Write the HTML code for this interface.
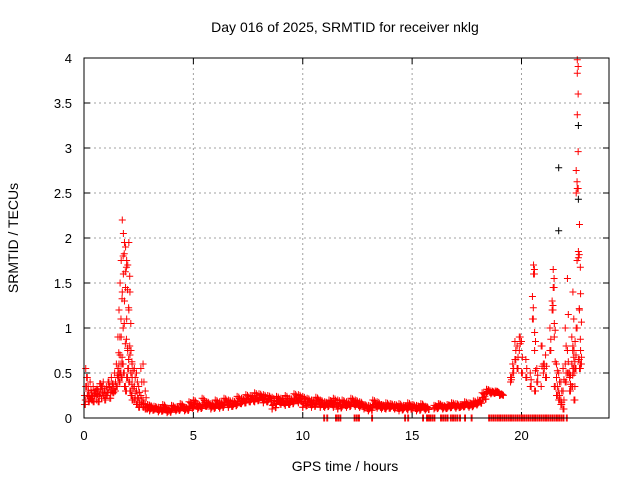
<!DOCTYPE html>
<html><head><meta charset="utf-8">
<style>
body{margin:0;background:#fff;}
svg{display:block;font-family:"Liberation Sans",sans-serif;}
</style></head>
<body>
<svg id="chart" width="640" height="480">
<text x="345" y="32" font-size="14" text-anchor="middle">Day 016 of 2025, SRMTID for receiver nklg</text>
<text x="345" y="471" font-size="14" text-anchor="middle">GPS time / hours</text>
<text transform="translate(18,238) rotate(-90)" font-size="14" text-anchor="middle">SRMTID / TECUs</text>
<g id="grid"></g><g id="ticks"></g><g id="marks"></g>
<rect x="84" y="58" width="525" height="360" fill="none" stroke="#000" stroke-width="1"/>
</svg>
<script>
const xTicks=[0,5,10,15,20];
const yTicks=[0,0.5,1,1.5,2,2.5,3,3.5,4];
const yTickLabels=["0","0.5","1","1.5","2","2.5","3","3.5","4"];
// rows: [time, value, value, ...]
const redSeries=[
[0.02,.25,.15],[0.08,.55,.35],[0.15,.45,.25],[0.2,.3,.18],[0.28,.4,.22],[0.35,.28,.2],[0.42,.35,.18],[0.5,.25,.3],[0.58,.2,.32],[0.65,.3,.18],[0.72,.27,.38],[0.8,.22,.35],[0.88,.4,.25],[0.95,.3,.2],[1.02,.35,.25],[1.1,.28,.4],[1.18,.35,.22],[1.25,.45,.3],[1.32,.38,.28],[1.4,.5,.3],[1.48,.6,.35],
[1.55,.9,.55,.45],[1.6,1.2,.6,.4],[1.65,1.5,.7,.5],[1.7,1.75,.9,.45],[1.75,2.2,1.4,.6],[1.8,2.05,1.6,.5],[1.85,1.95,1.3,.35],[1.9,1.9,1.45,.3],[1.95,1.75,1.1,.45],[2.0,1.7,.75,.55],[2.05,1.95,1.2,.4],[2.1,1.4,.7,.3],[2.15,.75,.5,.25],[2.2,.6,.45,.2],[2.3,.55,.35,.2],[2.4,.5,.3,.15],[2.5,.35,.22,.12],[2.6,.55,.25,.15],[2.7,.6,.2,.12],[2.8,.3,.15,.1],[2.9,.15,.1],
[3.0,.14,.08],[3.2,.13,.09],[3.4,.12,.07],[3.6,.15,.08],[3.8,.1,.06],[4.0,.14,.09],[4.2,.12,.08],[4.4,.16,.1],[4.6,.12,.08],[4.8,.18,.1],[5.0,.2,.12],[5.2,.15,.1],[5.4,.22,.12],[5.6,.18,.13],[5.8,.16,.1],[6.0,.2,.12],[6.2,.18,.11],[6.4,.22,.14],[6.6,.2,.12],[6.8,.19,.13],[7.0,.24,.15],[7.2,.22,.16],[7.4,.26,.17],[7.6,.25,.18],[7.8,.28,.18],[8.0,.27,.2],[8.2,.26,.17],[8.4,.25,.18],[8.6,.23,.1],[8.8,.24,.16],[9.0,.22,.15],[9.2,.25,.14],[9.4,.22,.15],[9.6,.27,.18],[9.8,.26,.17],[10.0,.24,.12],[10.2,.22,.14],[10.4,.2,.12],[10.6,.23,.15],[10.8,.2,.12],[11.0,.18,.12],[11.2,.2,.14],[11.4,.22,.12],[11.6,.2,.1],[11.8,.2,.13],[12.0,.18,.12],[12.2,.22,.14],[12.4,.2,.13],[12.6,.18,.12],[12.8,.15,.1],[13.0,.14,.08],[13.2,.2,.12],[13.4,.18,.11],[13.6,.15,.1],[13.8,.17,.1],[14.0,.16,.11],[14.2,.15,.1],[14.4,.16,.08],[14.6,.14,.1],[14.8,.17,.09],[15.0,.15,.1],[15.2,.14,.08],[15.4,.16,.1],[15.6,.13,.09],[16.0,.14,.1],[16.2,.16,.12],[16.4,.14,.1],[16.6,.15,.11],[16.8,.17,.12],[17.0,.16,.11],[17.2,.15,.12],[17.4,.18,.13],[17.6,.17,.12],[17.8,.19,.14],[18.0,.2,.16],[18.2,.28,.2],[18.4,.32,.28],[18.6,.3,.27],[18.8,.3,.28],[19.0,.27,.25],
[19.5,.4,.45],[19.6,.6,.5],[19.7,.85,.65],[19.8,.8,.55],[19.9,.75,.9],[20.0,.85,.5],[20.2,.65,.45],[20.4,.5,.35],[20.5,1.35,1.1],[20.55,1.7,1.6],[20.6,.95,.75,.3],[20.7,.55,.4],[20.9,.35,.8],[21.0,.5,.6],[21.1,.7,.45],[21.3,1.0,.75],[21.4,1.3,1.2],[21.45,1.65,1.45],[21.5,1.05,.9,.35],[21.6,.6,.45,.25],[21.7,.5,.3,.2],[21.8,.4,.2,.15],[21.9,.55,.3,.1],[22.0,1.0,.6,.4],[22.1,1.55,.75,.5],[22.2,.5,.45,.3],[22.3,.9,.6,.35],[22.35,1.4,.8,.55],[22.4,.75,.5,.2],[22.45,.85,.55],[22.5,2.75,2.5,1.0],[22.55,3.98,3.83,3.37,2.55],[22.6,1.85,1.78,.65],[22.65,2.15,1.2,.55],[22.7,1.38,.75,.6]
];
const zeroTimes=[10.96,11.1,11.5,11.6,11.7,12.35,12.45,12.55,13.15,14.66,14.8,15.48,15.66,15.72,15.8,15.9,16.0,16.3,16.4,16.5,16.6,16.75,16.85,16.95,17.05,17.17,17.4,17.7,18.5,18.6,18.7,18.8,18.9,19.0,19.1,19.2,19.3,19.4,19.5,19.6,19.7,19.8,19.9,20.0,20.1,20.2,20.3,20.4,20.5,20.6,20.7,20.8,20.9,21.0,21.1,21.2,21.3,21.4,21.5,21.6,21.7,21.8,21.9,22.05];
const blackSeries=[[21.7,2.78,2.08],[22.6,3.25,2.43]];
const X=t=>84+t*525/24, Y=v=>418-v*90;
const NS="http://www.w3.org/2000/svg";
const grid=document.getElementById('grid'),ticks=document.getElementById('ticks'),marks=document.getElementById('marks');
function mk(tag,at,parent){const e=document.createElementNS(NS,tag);for(const k in at)e.setAttribute(k,at[k]);parent.appendChild(e);return e;}
xTicks.forEach(t=>{
 const l=mk('line',{x1:X(t),x2:X(t),y1:58,y2:418,stroke:'#a0a0a0','stroke-dasharray':'2,3'},grid);
 
 
 const tk=mk('path',{d:`M${X(t)},418v-6M${X(t)},58v6`,stroke:'#000'},ticks);
 
 
 const tx=mk('text',{x:X(t),y:440,'font-size':13,'text-anchor':'middle'},ticks);tx.textContent=t;
 
 
});
yTicks.forEach((v,i)=>{
 if(v>0&&v<4){const l=mk('line',{x1:84,x2:609,y1:Y(v),y2:Y(v),stroke:'#a0a0a0','stroke-dasharray':'2,3'},grid);
 
 }
 const tk=mk('path',{d:`M84,${Y(v)}h6M609,${Y(v)}h-6`,stroke:'#000'},ticks);
 
 
 const tx=mk('text',{x:72,y:Y(v)+5,'font-size':13,'text-anchor':'end'},ticks);tx.textContent=yTickLabels[i];
 
 
});
function plus(t,v,color){
 const x=X(t),y=Y(v);
 const p=mk('path',{d:`M${x-3.5},${y}h7M${x},${y-3.5}v7`,stroke:color,'stroke-width':1},marks);
 
 
}
function fillRow(r,color){
 const lo=Math.min(...r.slice(1)),hi=Math.max(...r.slice(1));
 for(let i=1;i<r.length;i++)plus(r[0],r[i],color);
 if(r[0]>=2.9&&r[0]<19.2){
  // dense band: fill between low and high of this row
  for(let k=0;k<4;k++){plus(r[0]+0.05*k,lo+(hi-lo)*((k*0.37)%1),color);plus(r[0]+0.05*k+0.025,lo+(hi-lo)*((k*0.61+0.3)%1),color);}
 }else{
  for(let i=1;i<r.length;i++){plus(r[0]+0.04,(r[i]+(r[i+1]!==undefined?r[i+1]:r[i]))/2,color);}
 }
}
blackSeries.forEach(r=>{for(let i=1;i<r.length;i++)plus(r[0],r[i],'#000');});
redSeries.forEach(r=>fillRow(r,'#ff0000'));
zeroTimes.forEach(t=>{plus(t,0,'#ff0000');plus(t+0.04,0,'#ff0000');});
</script>
</body></html>
